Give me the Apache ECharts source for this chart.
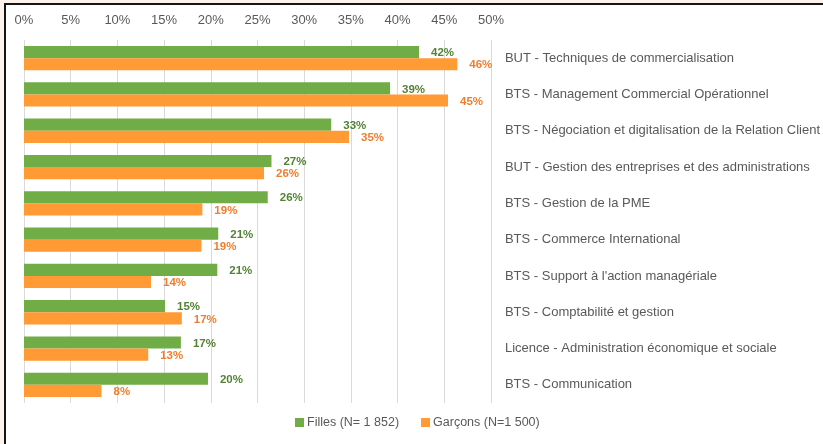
<!DOCTYPE html>
<html>
<head>
<meta charset="utf-8">
<title>Filles / Garçons</title>
<script src="https://cdn.jsdelivr.net/npm/echarts@6/dist/echarts.min.js"></script>
<style>
  body { margin: 0; background: #fdf3ec; }
  #frame { position: absolute; left: 4px; top: 3px; width: 819px; height: 441px; background: #fff;
           border-left: 2px solid #151515; border-top: 2px solid #151515; box-sizing: border-box; }
  #main { position: absolute; left: 0; top: 0; width: 823px; height: 444px; }
</style>
</head>
<body>
<div id="frame"></div>
<div id="main"></div>
<script>
// formations (de haut en bas)
var categories = [
  'BUT - Techniques de commercialisation',
  'BTS - Management Commercial Opérationnel',
  'BTS - Négociation et digitalisation de la Relation Client',
  'BUT - Gestion des entreprises et des administrations',
  'BTS - Gestion de la PME',
  'BTS - Commerce International',
  "BTS - Support à l'action managériale",
  'BTS - Comptabilité et gestion',
  'Licence - Administration économique et sociale',
  'BTS - Communication'
];
var filles   = [42.3, 39.2, 32.9, 26.5, 26.1, 20.8, 20.7, 15.1, 16.8, 19.7];
var garcons  = [46.4, 45.4, 34.8, 25.7, 19.1, 19.0, 13.6, 16.9, 13.3, 8.3];
var seriesNames = ['Filles (N= 1 852)', 'Garçons (N=1 500)'];

var font = 'Liberation Sans';
var chart = echarts.init(document.getElementById('main'));

function pct(p) { return Math.round(p.value) + '%'; }

chart.setOption({
  textStyle: { fontFamily: font },
  grid: { left: 24, right: 332, top: 40, bottom: 41 },
  xAxis: {
    type: 'value', position: 'top', min: 0, max: 50, interval: 5,
    axisLine: { show: false }, axisTick: { show: false },
    axisLabel: { formatter: '{value}%', color: '#595959', fontSize: 13, margin: 13 },
    splitLine: { show: true, lineStyle: { color: '#d9d9d9', width: 1 } }
  },
  yAxis: {
    type: 'category', data: categories, inverse: true, position: 'right',
    axisLine: { show: false }, axisTick: { show: false },
    axisLabel: { color: '#595959', fontSize: 13, align: 'left', margin: 14 }
  },
  legend: {
    data: seriesNames, bottom: 15, left: 295, padding: 0,
    itemWidth: 9, itemHeight: 9, itemGap: 22, icon: 'rect',
    textStyle: { color: '#595959', fontSize: 12.5, padding: [0, 0, 0, -2] }
  },
  series: [
    {
      name: seriesNames[0], type: 'bar', data: filles,
      barGap: '0%', barCategoryGap: '33%',
      itemStyle: { color: '#70ad47' },
      label: { show: true, position: 'right', distance: 12, formatter: pct,
               color: '#548235', fontWeight: 'bold', fontSize: 11.5, offset: [0, 1] }
    },
    {
      name: seriesNames[1], type: 'bar', data: garcons,
      itemStyle: { color: '#ff9a35' },
      label: { show: true, position: 'right', distance: 12, formatter: pct,
               color: '#f07d2e', fontWeight: 'bold', fontSize: 11.5, offset: [0, 1] }
    }
  ]
});
</script>
</body>
</html>
